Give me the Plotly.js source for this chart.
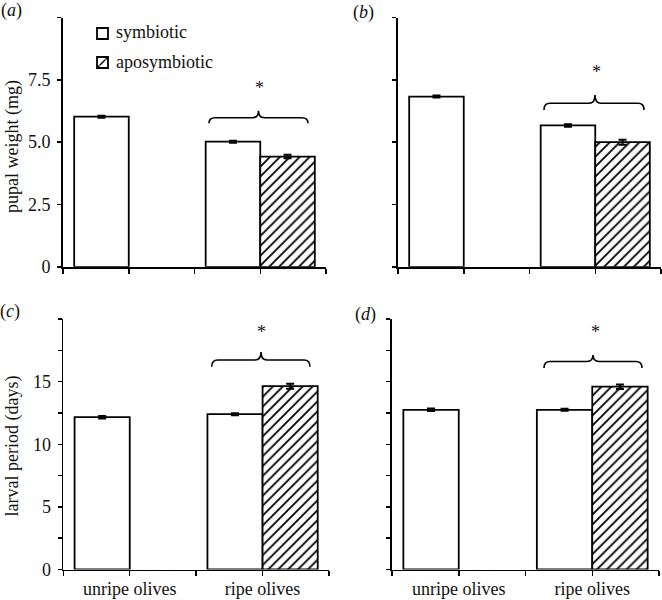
<!DOCTYPE html>
<html>
<head>
<meta charset="utf-8">
<script src="https://cdn.plot.ly/plotly-3.0.1.min.js"></script>
<style>html,body{margin:0;padding:0;background:#fff;}#chart{width:662px;height:600px;}</style>
</head>
<body>
<div id="chart"></div>
<script>
// ---- data ----
const categories = ['unripe olives', 'ripe olives'];
const seriesNames = ['symbiotic', 'aposymbiotic'];

const pupalSymA = [6.02, 5.02];
const pupalSymAErr = [0.04, 0.04];
const pupalAposA = [null, 4.42];
const pupalAposAErr = [null, 0.07];

const pupalSymB = [6.83, 5.67];
const pupalSymBErr = [0.04, 0.05];
const pupalAposB = [null, 5.00];
const pupalAposBErr = [null, 0.10];

const larvalSymC = [12.16, 12.40];
const larvalSymCErr = [0.10, 0.08];
const larvalAposC = [null, 14.64];
const larvalAposCErr = [null, 0.20];

const larvalSymD = [12.75, 12.75];
const larvalSymDErr = [0.10, 0.08];
const larvalAposD = [null, 14.60];
const larvalAposDErr = [null, 0.18];

const pupalTicks = [0, 2.5, 5, 7.5, 10];
const pupalTickText = ['0', '2.5', '5.0', '7.5', ''];
const larvalTicks = [0, 2.5, 5, 7.5, 10, 12.5, 15, 17.5, 20];
const larvalTickText = ['0', '', '5', '', '10', '', '15', '', ''];
const xTicks = [-0.5, 0, 0.5, 1, 1.5];
const xTickText = ['', categories[0], '', categories[1], ''];

// ---- helpers ----
const W = 662, H = 600;
const px = x => x / W;
const py = y => 1 - y / H;
const FONT = '"Liberation Serif", "Times New Roman", serif';
const FS = 18;
const INK = '#111';
const xpos = categories.map((c, i) => i);

function barTrace(y, err, name, apos, xa, ya) {
  const t = {
    type: 'bar', x: xpos, y: y, name: name, xaxis: xa, yaxis: ya,
    showlegend: false,
    marker: { color: '#ffffff', line: { color: '#000', width: 1.8 } },
    error_y: { type: 'data', array: err, visible: true, color: '#000', thickness: 2, width: 4 },
    hoverinfo: 'skip'
  };
  if (apos) {
    t.marker.pattern = { shape: '/', fgcolor: '#000', bgcolor: '#fff', size: 7, solidity: 0.26 };
  }
  return t;
}

const data = [
  barTrace(pupalSymA, pupalSymAErr, seriesNames[0], false, 'x', 'y'),
  barTrace(pupalAposA, pupalAposAErr, seriesNames[1], true, 'x', 'y'),
  barTrace(pupalSymB, pupalSymBErr, seriesNames[0], false, 'x2', 'y2'),
  barTrace(pupalAposB, pupalAposBErr, seriesNames[1], true, 'x2', 'y2'),
  barTrace(larvalSymC, larvalSymCErr, seriesNames[0], false, 'x3', 'y3'),
  barTrace(larvalAposC, larvalAposCErr, seriesNames[1], true, 'x3', 'y3'),
  barTrace(larvalSymD, larvalSymDErr, seriesNames[0], false, 'x4', 'y4'),
  barTrace(larvalAposD, larvalAposDErr, seriesNames[1], true, 'x4', 'y4')
];

function xAxis(domain, anchor, labels) {
  return {
    domain: domain, anchor: anchor, range: [-0.5, 1.5], fixedrange: true,
    showgrid: false, zeroline: false, showline: true, linecolor: '#000', linewidth: 1.8,
    ticks: 'outside', ticklen: 5, tickwidth: 1.5, tickcolor: '#000',
    tickmode: 'array', tickvals: xTicks, ticktext: xTickText, ticklabelstandoff: -3,
    showticklabels: labels, tickfont: { family: FONT, size: FS, color: INK }
  };
}
function yAxis(domain, anchor, range, tv, tt, labels) {
  return {
    domain: domain, anchor: anchor, range: range, fixedrange: true,
    showgrid: false, zeroline: false, showline: true, linecolor: '#000', linewidth: 1.8,
    ticks: 'outside', ticklen: 4, tickwidth: 1.5, tickcolor: '#000',
    tickmode: 'array', tickvals: tv, ticktext: tt, ticklabelstandoff: 3,
    showticklabels: labels, tickfont: { family: FONT, size: FS, color: INK }
  };
}

const topY = [py(266.8), py(17.5)];
const botY = [py(569.5), py(319)];

function brace(x0, x1, xc, yt, ym, yb) {
  const r = 6;
  const P = (x, y) => px(x).toFixed(5) + ',' + py(y).toFixed(5);
  const path = 'M' + P(x0, yb) +
    ' Q' + P(x0, ym) + ' ' + P(x0 + r, ym) +
    ' L' + P(xc - r, ym) +
    ' Q' + P(xc, ym) + ' ' + P(xc, yt) +
    ' Q' + P(xc, ym) + ' ' + P(xc + r, ym) +
    ' L' + P(x1 - r, ym) +
    ' Q' + P(x1, ym) + ' ' + P(x1, yb);
  return { type: 'path', xref: 'paper', yref: 'paper', path: path, line: { color: '#000', width: 1.6 } };
}

const shapes = [
  brace(209, 308, 258.5, 110.7, 117.7, 123.3),
  brace(544, 644, 595, 95, 103.3, 110),
  brace(211.7, 310, 261, 352, 360, 366.7),
  brace(544, 642, 593, 355, 361.5, 368),
  // legend icons
  { type: 'rect', xref: 'paper', yref: 'paper', x0: px(97), x1: px(108), y0: py(39), y1: py(28), line: { color: '#000', width: 1.8 }, fillcolor: '#fff' },
  { type: 'rect', xref: 'paper', yref: 'paper', x0: px(97), x1: px(108), y0: py(68), y1: py(57), line: { color: '#000', width: 1.8 }, fillcolor: '#fff' },
  { type: 'line', xref: 'paper', yref: 'paper', x0: px(99.5), x1: px(105.5), y0: py(65.5), y1: py(59.5), line: { color: '#000', width: 1.4 } },
  { type: 'path', xref: 'paper', yref: 'paper', path: 'M' + px(97) + ',' + py(68) + ' L' + px(101) + ',' + py(68) + ' L' + px(97) + ',' + py(64) + ' Z', fillcolor: '#000', line: { width: 0 } },
  { type: 'path', xref: 'paper', yref: 'paper', path: 'M' + px(108) + ',' + py(57) + ' L' + px(104) + ',' + py(57) + ' L' + px(108) + ',' + py(61) + ' Z', fillcolor: '#000', line: { width: 0 } }
];

function ann(text, x, y, opts) {
  return Object.assign({
    text: text, xref: 'paper', yref: 'paper', x: px(x), y: py(y),
    xanchor: 'center', yanchor: 'middle', showarrow: false,
    font: { family: FONT, size: FS, color: INK }
  }, opts || {});
}

const annotations = [
  ann('(<i>a</i>)', 11, 10),
  ann('(<i>b</i>)', 363, 12),
  ann('(<i>c</i>)', 10, 311),
  ann('(<i>d</i>)', 365, 314),
  ann('pupal weight (mg)', 12, 147, { textangle: -90 }),
  ann('larval period (days)', 12, 446.5, { textangle: -90 }),
  ann('*', 259.3, 88.5),
  ann('*', 596, 72),
  ann('*', 261, 332),
  ann('*', 595, 332),
  ann(seriesNames[0], 114, 32, { xanchor: 'left' }),
  ann(seriesNames[1], 114, 61.5, { xanchor: 'left' })
];

const layout = {
  width: W, height: H,
  margin: { l: 0, r: 0, t: 0, b: 0 },
  paper_bgcolor: '#fff', plot_bgcolor: 'rgba(0,0,0,0)',
  font: { family: FONT, size: FS, color: INK },
  barmode: 'group', bargap: 0.17, bargroupgap: 0,
  showlegend: false,
  xaxis: xAxis([px(63), px(326)], 'y', false),
  yaxis: yAxis(topY, 'x', [0, 10], pupalTicks, pupalTickText, true),
  xaxis2: xAxis([px(398), px(661)], 'y2', false),
  yaxis2: yAxis(topY, 'x2', [0, 10], pupalTicks, pupalTickText, false),
  xaxis3: xAxis([px(63.3), px(329)], 'y3', true),
  yaxis3: yAxis(botY, 'x3', [0, 20], larvalTicks, larvalTickText, true),
  xaxis4: xAxis([px(392), px(659)], 'y4', true),
  yaxis4: yAxis(botY, 'x4', [0, 20], larvalTicks, larvalTickText, false),
  shapes: shapes,
  annotations: annotations
};

Plotly.newPlot('chart', data, layout, { displayModeBar: false, staticPlot: true });
</script>
</body>
</html>
